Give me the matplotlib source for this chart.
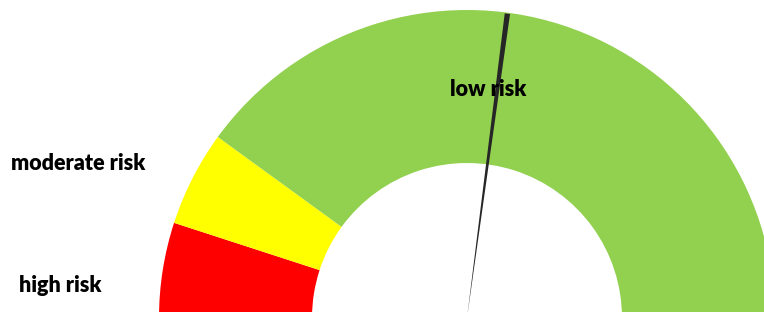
import matplotlib
matplotlib.use("Agg")
import matplotlib.pyplot as plt
from matplotlib.patches import Wedge

# risk bands, share of the half dial (percent)
categories = ["high risk", "moderate risk", "low risk"]
values = [10, 10, 80]
colors = ["#FF0000", "#FFFF00", "#92D050"]
needle_value = 54.2  # percent along the dial

fig = plt.figure(figsize=(7.64, 3.12), dpi=100)
ax = fig.add_axes([0, 0, 1, 1])

cx, cy = 467, -6
r_out, r_in = 308, 155

# half doughnut: add a hidden slice for the bottom half
ax.pie(values + [sum(values)], startangle=180, counterclock=False,
       radius=r_out, center=(cx, cy), colors=colors + ["none"],
       wedgeprops=dict(width=r_out - r_in, linewidth=0))

# needle as a thin wedge
theta = 180 - needle_value / 100 * 180
ax.add_patch(Wedge((cx, cy), r_out - 1, theta - 0.5, theta + 0.5,
                   facecolor="#262626", edgecolor="none"))

label_pos = {"low risk": (488, 312 - 89),
             "moderate risk": (78, 312 - 163),
             "high risk": (60, 312 - 285)}
for name in categories:
    x, y = label_pos[name]
    ax.text(x, y, name, ha="center", va="center",
            fontsize=15.5, fontweight="heavy", family="Lato")

ax.set_xlim(0, 764)
ax.set_ylim(0, 312)
ax.set_aspect("equal")
ax.axis("off")
fig.savefig("out.png", dpi=100)
